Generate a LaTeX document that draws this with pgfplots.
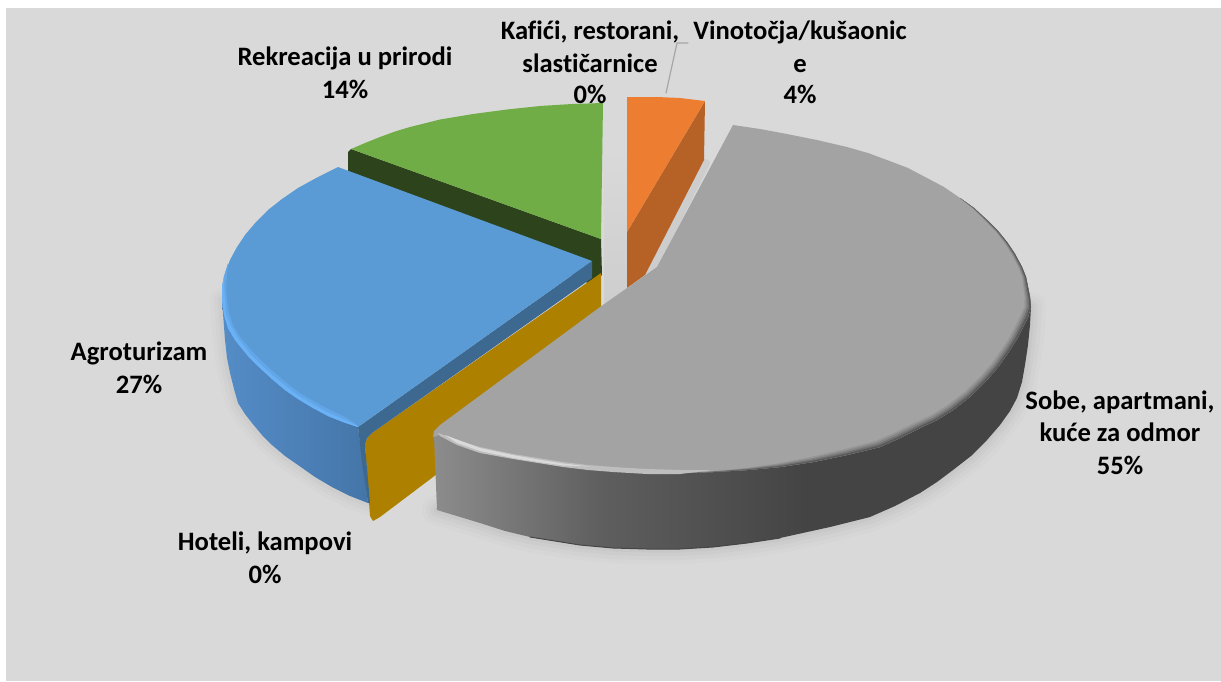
\documentclass[border=0pt]{standalone}
\usepackage{pgfplots}
\usepackage{pgfplotstable}
\usepackage{fontspec}
\setmainfont{Carlito}[Ligatures=NoCommon]
\pgfplotsset{compat=1.18}
\definecolor{bgc}{HTML}{D9D9D9}
\definecolor{gtop}{HTML}{A3A3A3}
\definecolor{sh1}{HTML}{D6D6D6}
\definecolor{sh2}{HTML}{D2D2D2}
\definecolor{sh3}{HTML}{CDCDCD}
\definecolor{sh4}{HTML}{C8C8C8}
\definecolor{gdark}{HTML}{2C431B}
\definecolor{gtopc}{HTML}{70AD47}
\definecolor{gold}{HTML}{AE8000}
\definecolor{binner}{HTML}{3D6890}
\definecolor{btop}{HTML}{5B9BD5}
\definecolor{bhigh}{HTML}{6AB2F5}
\definecolor{bhigh2}{HTML}{62A6E8}
\definecolor{odark}{HTML}{B66126}
\definecolor{otop}{HTML}{ED7D31}
\definecolor{edge}{HTML}{454545}
\definecolor{b1}{HTML}{5A5A5A}
\definecolor{b2}{HTML}{727272}
\definecolor{b3}{HTML}{868686}
\definecolor{b4}{HTML}{969696}
\definecolor{h1}{HTML}{BEBEBE}
\definecolor{h2}{HTML}{DADADA}
\definecolor{leader}{HTML}{A6A6A6}
\pgfdeclarehorizontalshading{grayside}{100bp}{rgb(0bp)=(0.55,0.55,0.55);rgb(25bp)=(0.55,0.55,0.55);rgb(39bp)=(0.37,0.37,0.37);rgb(56bp)=(0.267,0.267,0.267);rgb(100bp)=(0.267,0.267,0.267)}
\pgfdeclarehorizontalshading{blueside}{100bp}{rgb(0bp)=(0.33,0.55,0.78);rgb(25bp)=(0.33,0.55,0.78);rgb(75bp)=(0.27,0.46,0.66);rgb(100bp)=(0.27,0.46,0.66)}
\pgfplotstableread{
x y
1031 307
1030 325
1028 345
1025 365
1022 382
1017 398
1010 411
1000 425
987 440
971 456
953 470
937 482
920 493
895 506
870 517
830 527
780 538
747 543
713 547
680 549
647 549
613 548
580 545
555 541
530 537
505 531
480 523
437 510
}\gbottom
\pgfplotstableread{
x y
368 503
350 496
332 487
315 477
298 465
285 456
272 445
262 435
252 423
245 414
238 403
234 389
230 373
227 358
225 340
222 300
}\bbottom
\pgfplotstableread{
x y f
700 472.5 0
713 472 0
747 470 0
780 467 0
813 462 0
847 455 0
880 447 0
900 438 0
920 428 0
937 420 0
953 410 0
971 396 0
987 380 0
999 366 0
1010 350 0
1017 339 0
1023 327 0
1028 317 0
1031 307 0
1030 297 0
1028 287 0
1026 277 0
1022 267 0
1015 254 0
1007 242 0
998 231 0
987 220 0
974 208 0
960 198 0
974 208 .15
987 220 .25
998 231 .3
1007 242 .35
1015 254 .4
1022 267 .45
1026 277 .5
1028 287 .6
1030 297 .7
1031 307 .85
1028 317 1
1023 327 1
1017 339 1
1010 350 1
999 366 1
987 380 1
971 396 1
953 410 1
937 420 1
920 428 1
900 438 1
880 447 1
847 455 .9
813 462 .75
780 467 .55
747 470 .3
713 472 .1
}\gband
\begin{document}
\begin{tikzpicture}
\begin{axis}[
  scale only axis, width=1221pt, height=681pt,
  xmin=0, xmax=1221, ymin=0, ymax=681, y dir=reverse,
  hide axis, no markers, clip=true,
  every axis plot/.append style={line join=round, line cap=round},
]
% background
\addplot[fill=white, draw=none] coordinates {(0,0) (1221,0) (1221,681) (0,681)};
\addplot[fill=bgc, draw=none] coordinates {(6,8) (1221,8) (1221,681) (6,681)};
% soft shadows
\addplot[draw=sh1, line width=30pt] table {\gbottom};
\addplot[draw=sh2, line width=22pt] table {\gbottom};
\addplot[draw=sh3, line width=14pt] table {\gbottom};
\addplot[draw=sh4, line width=7pt] table {\gbottom};
\addplot[draw=sh1, line width=24pt] table {\bbottom};
\addplot[draw=sh2, line width=16pt] table {\bbottom};
\addplot[draw=sh3, line width=8pt] table {\bbottom};
% gap shadow
\addplot[shade, top color=bgc, bottom color=sh3, draw=none] coordinates {(604,150) (627,150) (627,290) (604,312)};
% green
\addplot[fill=gdark, draw=none] coordinates {(348,152) (351,149) (601,239) (602,275) (590,284) (348,171)};
\addplot[fill=gtopc, draw=none] coordinates {(603,103) (572,104) (540,106) (507,109.5) (473,114) (440,119.5) (410,127) (395,131.5) (380,137) (365,143) (351,149) (601,239)};
% blue side
\addplot[shade, shading=blueside, draw=none] coordinates {(358,427) (368,503) (350,496) (332,487) (315,477) (298,465) (285,456) (272,445) (262,435) (252,423) (245,414) (238,403) (234,389) (230,373) (227,358) (225,340) (222,300) (222,287) (300,300)};
% gold
\addplot[fill=gold, draw=none] coordinates {(601,273) (372,433) (367,438) (365,445) (370,516) (373,521) (380,517) (445,468) (445,425) (601,308)};
% blue inner face
\addplot[fill=binner, draw=none] coordinates {(592,261) (358,427) (362,463) (368,503) (370,503) (365,445) (367,438) (372,433) (592,278)};
% blue top
\addplot[fill=btop, draw=none] coordinates {(592,261) (338,167) (318,177) (298,188) (282,199) (268,210) (256,222) (245,235) (237,247) (230,260) (225,273) (222,287) (222,300) (224,315) (228,328) (235,340) (248,356) (260,368) (272,379) (285,390) (298,399) (313,408) (328,416) (343,422) (358,427)};
\addplot[fill=bhigh2, draw=none] coordinates {(228,263) (225,273) (222,287) (222,300) (224,315) (228,328) (235,340) (248,356) (260,368) (272,379) (285,390) (298,399) (313,408) (328,416) (343,422) (358,427) (356,424) (345,417) (330,410) (315,402) (300,393) (288,384) (276,374) (264,363) (252,351) (240,337) (233,325) (229,313) (227,300) (226,287)};
\addplot[fill=bhigh, draw=none] coordinates {(224,275) (222,287) (222,300) (224,315) (228,328) (235,340) (248,356) (260,368) (272,379) (285,390) (298,399) (313,408) (328,416) (343,422) (358,427) (357,425.5) (344,419.5) (329,413) (314,405) (299,396) (287,387) (274,376.5) (262,365.5) (250,353.5) (238,338) (231,326) (226,314) (225,300) (224,287)};
% orange
\addplot[draw=sh3, line width=8pt] coordinates {(706,163) (648,277)};
\addplot[fill=odark, draw=none] coordinates {(705,101) (704,160) (645,275) (627,288) (627,232)};
\addplot[fill=otop, draw=none] coordinates {(627,97) (657,97) (680,98) (705,101) (627,232)};
% gray side
\addplot[shade, shading=grayside, draw=none] coordinates {(434,436) (680,400) (1031,307) (1030,325) (1028,345) (1025,365) (1022,382) (1017,398) (1010,411) (1000,425) (987,440) (971,456) (953,470) (937,482) (920,493) (895,506) (870,517) (830,527) (780,538) (747,543) (713,547) (680,549) (647,549) (613,548) (580,545) (555,541) (530,537) (505,531) (480,523) (437,510)};
\addplot[draw=edge, line width=1pt] coordinates {(530,537) (555,541) (580,545) (613,548) (647,549) (680,549) (713,547) (747,543) (780,538)};
% gray top
\addplot[fill=gtop, draw=none] coordinates {(733,125) (760,129) (787,134) (817,140) (847,147) (868,153) (887,160) (908,168) (927,178) (944,187) (960,198) (974,208) (987,220) (998,231) (1007,242) (1015,254) (1022,267) (1026,277) (1028,287) (1030,297) (1031,307) (1028,317) (1023,327) (1017,339) (1010,350) (999,366) (987,380) (971,396) (953,410) (937,420) (920,428) (900,438) (880,447) (847,455) (813,462) (780,467) (747,470) (713,472) (680,473) (647,472) (613,470) (588,468) (563,465) (538,461) (513,457) (496,454) (480,450) (457,442) (440,435) (433,437) (434,431) (440,425) (600,307) (657,267)};
% bevel of the gray slice
\addplot[fill=b4, draw=none] table[x expr={640+(\thisrow{x}-640)*(1-.02*\thisrow{f})}, y expr={300+(\thisrow{y}-300)*(1-.04*\thisrow{f})}] {\gband};
\addplot[fill=b3, draw=none] table[x expr={640+(\thisrow{x}-640)*(1-.015*\thisrow{f})}, y expr={300+(\thisrow{y}-300)*(1-.03*\thisrow{f})}] {\gband};
\addplot[fill=b2, draw=none] table[x expr={640+(\thisrow{x}-640)*(1-.01*\thisrow{f})}, y expr={300+(\thisrow{y}-300)*(1-.02*\thisrow{f})}] {\gband};
\addplot[fill=b1, draw=none] table[x expr={640+(\thisrow{x}-640)*(1-.005*\thisrow{f})}, y expr={300+(\thisrow{y}-300)*(1-.01*\thisrow{f})}] {\gband};
\addplot[fill=h1, draw=none] coordinates {(438,433) (457,440) (480,447) (513,454) (538,458) (563,462) (588,465) (613,467) (647,469) (680,470) (713,470) (680,474) (647,474) (613,472) (588,470) (563,467) (538,463) (513,459) (480,453) (457,445) (440,436)};
\addplot[fill=h2, draw=none] coordinates {(445,435) (480,448) (513,455) (538,459.5) (563,463.5) (590,466.5) (563,465.5) (538,462) (513,458) (480,451) (457,443)};
% leader line
\addplot[draw=leader, line width=1.2pt] coordinates {(688,43) (677,43) (666,93)};
% labels
\begin{scope}[every node/.style={anchor=base, font=\fontsize{26.6}{32}\selectfont\bfseries, text=black, inner sep=0pt}]
\node at (axis cs:345,65.5) {Rekreacija u prirodi};
\node at (axis cs:345,98) {14\%};
\node at (axis cs:590,39) {Kafići, restorani,};
\node at (axis cs:590,72) {slastičarnice};
\node at (axis cs:590,103) {0\%};
\node at (axis cs:800,39) {Vinotočja/kušaonic};
\node at (axis cs:800,72) {e};
\node at (axis cs:800,103) {4\%};
\node at (axis cs:139,360.5) {Agroturizam};
\node at (axis cs:139,393) {27\%};
\node at (axis cs:1120,409) {Sobe, apartmani,};
\node at (axis cs:1120,441) {kuće za odmor};
\node at (axis cs:1120,474) {55\%};
\node at (axis cs:265,550) {Hoteli, kampovi};
\node at (axis cs:265,583) {0\%};
\end{scope}
\end{axis}
\end{tikzpicture}
\end{document}
